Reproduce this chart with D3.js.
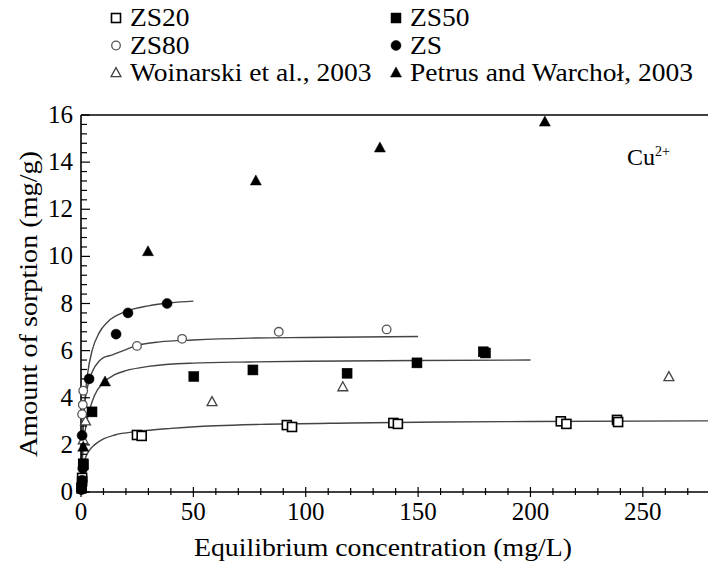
<!DOCTYPE html>
<html><head><meta charset="utf-8">
<script src="https://cdn.jsdelivr.net/npm/d3@7"></script>
<style>body{margin:0;background:#fff}svg{display:block}</style>
</head><body>
<div id="chart"></div>
<script>
// ---- data ----
const zs20 = [[0.3,0.2],[0.5,0.6],[1,1.2],[24.9,2.42],[27,2.38],[91.6,2.84],[93.9,2.76],[139,2.93],[141,2.89],[213.5,3.0],[216,2.89],[238.5,3.06],[239,2.97]];
const zs50 = [[0.3,0.15],[0.5,0.45],[1,1.15],[4.9,3.4],[50.2,4.9],[76.5,5.18],[118.4,5.04],[149.5,5.48],[179,5.95],[180,5.9]];
const zs80 = [[0.5,3.3],[0.8,3.7],[1,4.3],[24.9,6.2],[45,6.5],[88,6.8],[136,6.9]];
const zs = [[0.2,0.1],[0.5,0.5],[0.8,1.0],[0.5,2.4],[3.6,4.8],[15.6,6.7],[20.9,7.6],[38.3,8.0]];
const woinarski = [[1,2.2],[2,3.0],[58.3,3.82],[116.5,4.45],[261.6,4.88]];
const petrus = [[1,1.9],[10.7,4.67],[29.8,10.2],[77.8,13.2],[133,14.6],[206.4,15.7]];

const fitZS = [[0.3,1.1],[0.6,1.95],[1,2.81],[2,4.2],[3,5.06],[5,6.02],[8,6.74],[12,7.23],[20,7.66],[30,7.9],[40,8.03],[50,8.1]];
const fitZS80 = [[0.5,2.0],[1,3.0],[2,4.0],[3,4.5],[5,5.1],[8,5.55],[10,5.7],[14,5.82],[18,5.97],[25,6.22],[35,6.37],[50,6.45],[75,6.53],[100,6.56],[150,6.6]];
const fitZS50 = [[0.5,1.2],[1,1.9],[2,2.7],[4,3.55],[6,4.1],[10,4.65],[15,4.98],[20,5.15],[30,5.33],[50,5.47],[75,5.52],[100,5.55],[150,5.58],[200,5.6]];
const fitZS20 = [[1,1.1],[2,1.45],[4,1.8],[6,2.0],[10,2.25],[15,2.42],[25,2.57],[40,2.7],[60,2.81],[80,2.87],[120,2.93],[160,2.97],[200,2.99],[280,3.02]];

const xTicks = [0,50,100,150,200,250];
const yTicks = [0,2,4,6,8,10,12,14,16];
const legendItems = [
  {name:"ZS20", sym:"square", fill:false},
  {name:"ZS50", sym:"square", fill:true},
  {name:"ZS80", sym:"circle", fill:false},
  {name:"ZS", sym:"circle", fill:true},
  {name:"Woinarski et al., 2003", sym:"triangle", fill:false},
  {name:"Petrus and Warchoł, 2003", sym:"triangle", fill:true}
];

// ---- layout ----
const FONT = "'Liberation Serif','DejaVu Serif','Times New Roman',serif";
const W = 708, H = 567;
const m = {left:81, top:115, right:708, bottom:492};
const x = d3.scaleLinear().domain([0,279]).range([m.left, m.right]);
const y = d3.scaleLinear().domain([0,16]).range([m.bottom, m.top]);

const svg = d3.select("#chart").append("svg").attr("width",W).attr("height",H)
  .attr("font-family",FONT).style("font-family",FONT);

// fit lines
const line = d3.line().x(d=>x(d[0])).y(d=>y(d[1])).curve(d3.curveMonotoneX);
[fitZS, fitZS80, fitZS50, fitZS20].forEach(f=>{
  svg.append("path").attr("d", line(f)).attr("fill","none").attr("stroke","#444").attr("stroke-width",1.4);
});

// axes
const ax = svg.append("g").attr("stroke","#000");
ax.append("line").attr("x1",m.left).attr("x2",m.right).attr("y1",m.bottom).attr("y2",m.bottom).attr("stroke-width",1.6);
ax.append("line").attr("x1",m.left).attr("x2",m.right).attr("y1",m.top).attr("y2",m.top).attr("stroke-width",1.6);
ax.append("line").attr("x1",m.left).attr("x2",m.left).attr("y1",m.top).attr("y2",m.bottom).attr("stroke-width",1.6);

d3.range(0, 280, 10).forEach(v=>{
  const major = v % 50 === 0;
  ax.append("line").attr("x1",x(v)).attr("x2",x(v)).attr("y1",m.bottom-(major?5:4)).attr("y2",m.bottom+(major?5:3)).attr("stroke-width",1.2);
});
d3.range(0, 16.01, 0.4).forEach(v=>{
  const major = Math.abs(v/2 - Math.round(v/2)) < 1e-6;
  ax.append("line").attr("x1",m.left).attr("x2",m.left+(major?9:6)).attr("y1",y(v)).attr("y2",y(v)).attr("stroke-width",1.2);
});

svg.selectAll(".xt").data(xTicks).enter().append("text")
  .attr("x",d=>x(d)).attr("y",520).attr("text-anchor","middle").attr("font-size",25).text(d=>d);
svg.selectAll(".yt").data(yTicks).enter().append("text")
  .attr("x",73).attr("y",d=>y(d)+8).attr("text-anchor","end").attr("font-size",25).text(d=>d);

svg.append("text").attr("x",383).attr("y",556).attr("text-anchor","middle").attr("font-size",26)
  .attr("textLength",378).attr("lengthAdjust","spacingAndGlyphs")
  .text("Equilibrium concentration (mg/L)");
svg.append("text").attr("transform","translate(37,304) rotate(-90)").attr("text-anchor","middle").attr("font-size",26)
  .attr("textLength",306).attr("lengthAdjust","spacingAndGlyphs")
  .text("Amount of sorption (mg/g)");

const cu = svg.append("text").attr("x",627).attr("y",165).attr("font-size",24);
cu.append("tspan").text("Cu");
cu.append("tspan").attr("dy",-9).attr("font-size",14).text("2+");

// markers
function marker(g, sym, fill, cx, cy){
  if(sym==="square"){
    const a = fill? 10 : 9;
    g.append("rect").attr("x",cx-a/2).attr("y",cy-a/2).attr("width",a).attr("height",a)
      .attr("fill",fill?"#000":"#fff").attr("stroke","#000").attr("stroke-width",fill?0.5:1.6);
  } else if(sym==="circle"){
    g.append("circle").attr("cx",cx).attr("cy",cy).attr("r",fill?5:4.3)
      .attr("fill",fill?"#000":"#fff").attr("stroke",fill?"#000":"#555").attr("stroke-width",fill?0.5:1.3);
  } else {
    const h = fill?10:9;
    const pts = [[cx,cy-h*0.6],[cx-h*0.55,cy+h*0.4],[cx+h*0.55,cy+h*0.4]];
    g.append("path").attr("d","M"+pts.map(p=>p.join(",")).join("L")+"Z")
      .attr("fill",fill?"#000":"#fff").attr("stroke",fill?"#000":"#444").attr("stroke-width",fill?0.5:1.3);
  }
}
const mk = svg.append("g");
const series = [[woinarski,"triangle",false],[zs20,"square",false],[zs80,"circle",false],[zs50,"square",true],[zs,"circle",true],[petrus,"triangle",true]];
series.forEach(([data,sym,fill])=>data.forEach(d=>marker(mk,sym,fill,x(d[0]),y(d[1]))));

// legend
const lg = svg.append("g");
legendItems.forEach((it,i)=>{
  const col = i%2, row = Math.floor(i/2);
  const lx = col===0?116:396, ly = 18+row*27.5;
  marker(lg, it.sym, it.fill, lx, ly);
  const t = lg.append("text").attr("x",lx+14).attr("y",ly+8).attr("font-size",25).text(it.name);
  const w = t.node().getComputedTextLength();
  t.attr("textLength", w*1.1).attr("lengthAdjust","spacingAndGlyphs");
});
</script>
</body></html>
